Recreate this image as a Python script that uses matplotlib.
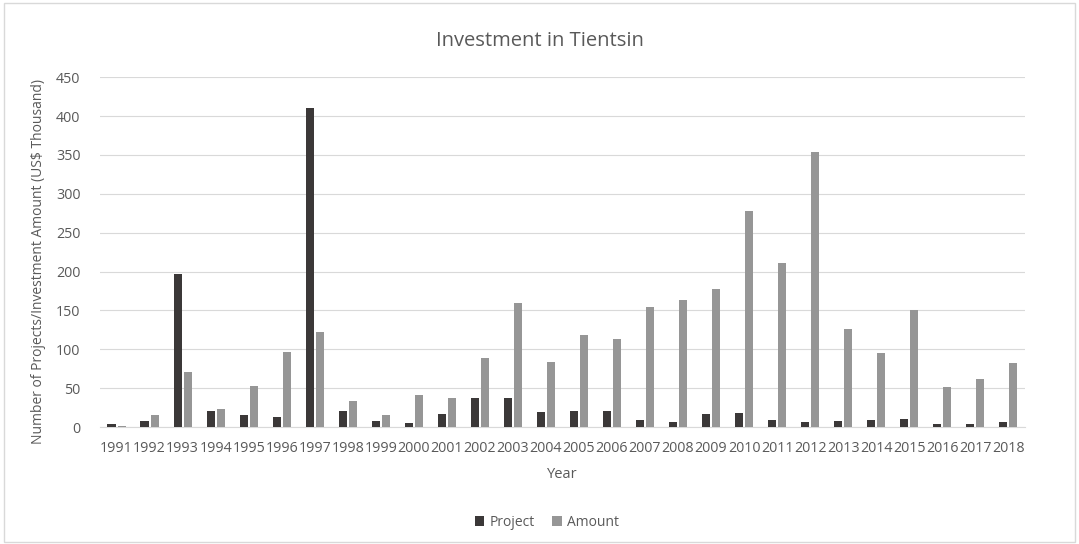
import numpy as np
import matplotlib.pyplot as plt
from matplotlib.patches import Rectangle

years = [str(y) for y in range(1991, 2019)]
project = [4, 8, 197, 21, 16, 13, 411, 20, 8, 5, 17, 38, 37, 19,
           21, 20, 9, 6, 17, 18, 9, 7, 8, 9, 10, 4, 4, 6]
amount = [1, 16, 71, 23, 53, 96, 122, 33, 15, 41, 37, 89, 159, 84,
          118, 113, 155, 163, 177, 278, 211, 354, 126, 95, 151, 52, 62, 83]

plt.rcParams['font.family'] = ['Open Sans', 'DejaVu Sans']
txt = '#595959'

fig = plt.figure(figsize=(10.79, 5.44), dpi=100)
ax = fig.add_axes([0.0927, 0.215, 0.857, 0.643])

# borde del área del gráfico
fig.patches.append(Rectangle((0.004, 0.004), 0.992, 0.99, transform=fig.transFigure,
                             fill=False, edgecolor='#d9d9d9', linewidth=1))

x = np.arange(len(years))
w = 0.245
ax.bar(x - w / 2 - 0.03, project, width=w, color='#3b3838', label='Project', zorder=3)
ax.bar(x + w / 2 + 0.03, amount, width=w, color='#969696', label='Amount', zorder=3)

ax.set_xlim(-0.5, len(years) - 0.5)
ax.set_ylim(0, 450)
ax.set_yticks(range(0, 451, 50))
ax.set_xticks(x)
ax.set_xticklabels(years)
ax.grid(axis='y', color='#d9d9d9', linewidth=0.8, zorder=0)
for s in ['top', 'right', 'left']:
    ax.spines[s].set_visible(False)
ax.spines['bottom'].set_color('#d9d9d9')
ax.tick_params(axis='x', length=0, labelsize=10.3, colors=txt, pad=10)
ax.tick_params(axis='y', length=0, labelsize=10.3, colors=txt, pad=14)

fig.text(562 / 1079, 1 - 474 / 544, 'Year', ha='center', va='center',
         fontsize=10.5, color=txt)
fig.text(39 / 1079, 1 - 261 / 544, 'Number of Projects/Investment Amount (US$ Thousand)',
         rotation=90, ha='center', va='center', fontsize=10, color=txt)
fig.text(0.5, 0.925, 'Investment in Tientsin', ha='center', va='center',
         fontsize=14.5, color=txt)

fig.legend(loc='center', bbox_to_anchor=(547 / 1079, 1 - 522 / 544), ncol=2, frameon=False,
           fontsize=10, labelcolor=txt, handlelength=0.7, handleheight=0.7,
           columnspacing=1.2, handletextpad=0.4)

plt.savefig('out.png', dpi=100)
